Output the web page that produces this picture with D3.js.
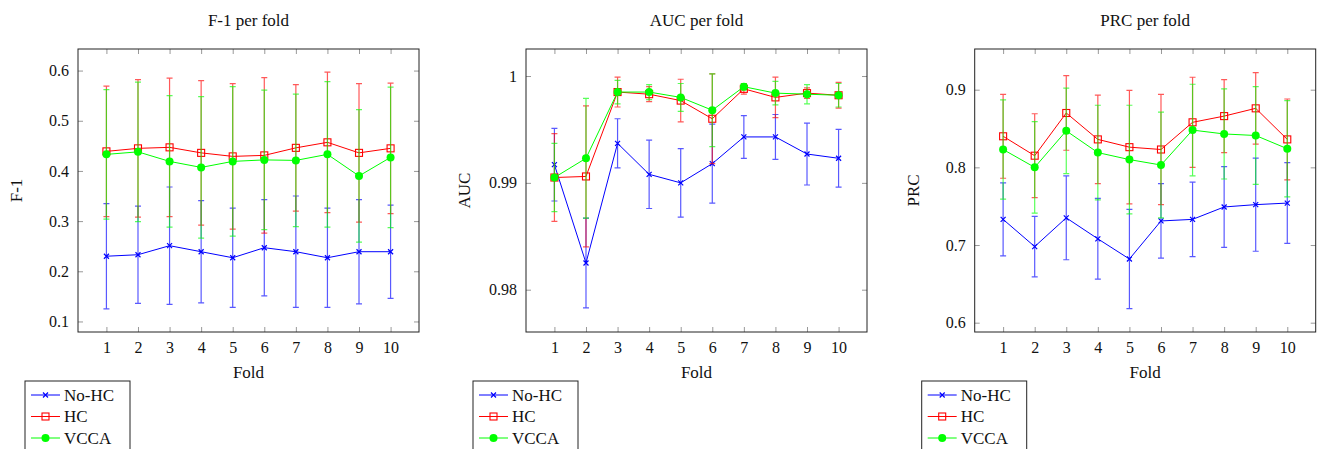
<!DOCTYPE html>
<html>
<head>
<meta charset="utf-8">
<script src="https://cdn.jsdelivr.net/npm/d3@7"></script>
<style>
  body { margin: 0; background: #fff; }
  svg { display: block; font-family: "Liberation Serif", serif; }
</style>
</head>
<body>
<svg id="chart"></svg>
<script>
// folds on the x axis
var folds = [1, 2, 3, 4, 5, 6, 7, 8, 9, 10];
var seriesNames = ["No-HC", "HC", "VCCA"];
var titles = ["F-1 per fold", "AUC per fold", "PRC per fold"];
var yLabels = ["F-1", "AUC", "PRC"];
var yTicks = [[0.1, 0.2, 0.3, 0.4, 0.5, 0.6], [0.98, 0.99, 1], [0.6, 0.7, 0.8, 0.9]];

// F-1 (mean and std per fold)
var f1NoHc = [0.230, 0.233, 0.251, 0.239, 0.227, 0.247, 0.239, 0.227, 0.239, 0.239];
var f1NoHcErr = [0.105, 0.097, 0.117, 0.102, 0.099, 0.096, 0.111, 0.099, 0.104, 0.093];
var f1Hc = [0.439, 0.445, 0.447, 0.436, 0.429, 0.431, 0.446, 0.457, 0.436, 0.445];
var f1HcErr = [0.130, 0.137, 0.138, 0.144, 0.145, 0.155, 0.126, 0.140, 0.138, 0.130];
var f1Vcca = [0.433, 0.438, 0.419, 0.407, 0.419, 0.422, 0.421, 0.433, 0.390, 0.427];
var f1VccaErr = [0.129, 0.139, 0.131, 0.141, 0.149, 0.139, 0.132, 0.145, 0.132, 0.140];

// AUC
var aucNoHc = [0.9917, 0.9825, 0.9937, 0.9908, 0.9900, 0.9918, 0.9943, 0.9943, 0.9927, 0.9923];
var aucNoHcErr = [0.0034, 0.0042, 0.0023, 0.0032, 0.0032, 0.0037, 0.0020, 0.0021, 0.0029, 0.0027];
var aucHc = [0.9905, 0.9906, 0.9985, 0.9983, 0.9977, 0.9960, 0.9988, 0.9980, 0.9984, 0.9982];
var aucHcErr = [0.0041, 0.0066, 0.0014, 0.0007, 0.0020, 0.0042, 0.0005, 0.0019, 0.0005, 0.0012];
var aucVcca = [0.9905, 0.9923, 0.9985, 0.9985, 0.9980, 0.9968, 0.9990, 0.9984, 0.9983, 0.9982];
var aucVccaErr = [0.0032, 0.0056, 0.0011, 0.0007, 0.0013, 0.0034, 0.0003, 0.0011, 0.0009, 0.0011];

// PRC
var prcNoHc = [0.733, 0.698, 0.735, 0.708, 0.682, 0.731, 0.733, 0.749, 0.752, 0.754];
var prcNoHcErr = [0.047, 0.039, 0.054, 0.052, 0.064, 0.048, 0.048, 0.052, 0.060, 0.052];
var prcHc = [0.840, 0.815, 0.870, 0.836, 0.826, 0.823, 0.858, 0.866, 0.876, 0.836];
var prcHcErr = [0.054, 0.054, 0.048, 0.057, 0.073, 0.071, 0.058, 0.047, 0.046, 0.052];
var prcVcca = [0.823, 0.800, 0.847, 0.819, 0.810, 0.803, 0.848, 0.843, 0.841, 0.824];
var prcVccaErr = [0.064, 0.059, 0.055, 0.061, 0.070, 0.068, 0.059, 0.058, 0.063, 0.062];

var W = 1319, H = 449;
var svg = d3.select("#chart").attr("width", W).attr("height", H);

var colors = ["#0000ff", "#ff0000", "#00ff00"];
var markers = ["cross", "square", "circle"];

var panels = [
  { left: 78, yDom: [0.079, 0.643], data: [[f1NoHc, f1NoHcErr], [f1Hc, f1HcErr], [f1Vcca, f1VccaErr]], fmt: d3.format(".1f") },
  { left: 526, yDom: [0.97604, 1.00253], data: [[aucNoHc, aucNoHcErr], [aucHc, aucHcErr], [aucVcca, aucVccaErr]], fmt: function(d) { return d === 1 ? "1" : d3.format(".2f")(d); } },
  { left: 974.7, yDom: [0.588, 0.9524], data: [[prcNoHc, prcNoHcErr], [prcHc, prcHcErr], [prcVcca, prcVccaErr]], fmt: d3.format(".1f") }
];
var pw = 341, plotTop = 49, plotBottom = 332;

function drawMarker(g, type, color, x, y) {
  if (type == "cross") {
    g.append("path")
      .attr("d", "M" + (x - 2.5) + "," + (y - 2.5) + "L" + (x + 2.5) + "," + (y + 2.5) +
                 "M" + (x - 2.5) + "," + (y + 2.5) + "L" + (x + 2.5) + "," + (y - 2.5))
      .attr("stroke", color).attr("stroke-width", 1.2).attr("fill", "none");
  } else if (type == "square") {
    g.append("rect").attr("x", x - 3.5).attr("y", y - 3.5).attr("width", 7).attr("height", 7)
      .attr("fill", "none").attr("stroke", color).attr("stroke-width", 1.1);
  } else {
    g.append("circle").attr("cx", x).attr("cy", y).attr("r", 4).attr("fill", color);
  }
}

panels.forEach(function(p, i) {
  var x = d3.scaleLinear().domain([0.1, 10.9]).range([p.left, p.left + pw]);
  var y = d3.scaleLinear().domain(p.yDom).range([plotBottom, plotTop]);
  var g = svg.append("g");

  // ticks inside, mirrored on both sides
  var xAxB = d3.axisBottom(x).tickValues(folds).tickSize(-5).tickPadding(10).tickFormat(d3.format("d"));
  var xAxT = d3.axisTop(x).tickValues(folds).tickSize(-5).tickFormat("");
  var yAxL = d3.axisLeft(y).tickValues(yTicks[i]).tickSize(-5).tickPadding(9).tickFormat(p.fmt);
  var yAxR = d3.axisRight(y).tickValues(yTicks[i]).tickSize(-5).tickFormat("");

  [[xAxB, "translate(0," + plotBottom + ")"], [xAxT, "translate(0," + plotTop + ")"],
   [yAxL, "translate(" + p.left + ",0)"], [yAxR, "translate(" + (p.left + pw) + ",0)"]].forEach(function(a) {
    var ax = g.append("g").attr("transform", a[1]).call(a[0]);
    ax.select(".domain").remove();
    ax.selectAll(".tick line").attr("stroke", "#999").attr("stroke-width", 1);
    ax.selectAll("text").attr("fill", "#111").attr("font-size", 16)
      .attr("font-family", "Liberation Serif, serif");
  });

  g.append("rect").attr("x", p.left).attr("y", plotTop).attr("width", pw).attr("height", plotBottom - plotTop)
    .attr("fill", "none").attr("stroke", "#222").attr("stroke-width", 1);

  // series: error bars, line, markers
  p.data.forEach(function(s, k) {
    var mean = s[0], err = s[1];
    var sg = g.append("g");
    folds.forEach(function(f, j) {
      var cx = x(f), y1 = y(mean[j] + err[j]), y0 = y(mean[j] - err[j]);
      sg.append("path")
        .attr("d", "M" + cx + "," + y0 + "L" + cx + "," + y1 +
                   "M" + (cx - 3) + "," + y0 + "L" + (cx + 3) + "," + y0 +
                   "M" + (cx - 3) + "," + y1 + "L" + (cx + 3) + "," + y1)
        .attr("stroke", colors[k]).attr("stroke-width", 1.2).attr("stroke-opacity", 0.65)
        .attr("fill", "none");
    });
    var line = d3.line().x(function(d) { return x(d); }).y(function(d, j) { return y(mean[j]); });
    sg.append("path").datum(folds).attr("d", line)
      .attr("fill", "none").attr("stroke", colors[k]).attr("stroke-width", 1);
    folds.forEach(function(f, j) { drawMarker(sg, markers[k], colors[k], x(f), y(mean[j])); });
  });

  // titles and labels
  var cx = p.left + pw / 2;
  g.append("text").attr("x", cx).attr("y", 26).attr("text-anchor", "middle")
    .attr("font-size", 17).attr("fill", "#111").text(titles[i]);
  g.append("text").attr("x", cx).attr("y", 378).attr("text-anchor", "middle")
    .attr("font-size", 17).attr("fill", "#111").text("Fold");
  g.append("text").attr("transform", "translate(" + (p.left - 56) + "," + ((plotTop + plotBottom) / 2) + ") rotate(-90)")
    .attr("text-anchor", "middle").attr("font-size", 17).attr("fill", "#111").text(yLabels[i]);

  // legend (cut by the bottom edge as in the original)
  var lx = p.left - 53, ly = 381;
  var lg = g.append("g");
  lg.append("rect").attr("x", lx).attr("y", ly).attr("width", 105).attr("height", 80)
    .attr("fill", "#fff").attr("stroke", "#222").attr("stroke-width", 1);
  seriesNames.forEach(function(name, k) {
    var ry = 395 + k * 21.5;
    lg.append("line").attr("x1", lx + 6).attr("x2", lx + 35).attr("y1", ry).attr("y2", ry)
      .attr("stroke", colors[k]).attr("stroke-width", 1);
    drawMarker(lg, markers[k], colors[k], lx + 20.5, ry);
    lg.append("text").attr("x", lx + 39).attr("y", ry + 5.5).attr("font-size", 17)
      .attr("fill", "#111").text(name);
  });
});
</script>
</body>
</html>
